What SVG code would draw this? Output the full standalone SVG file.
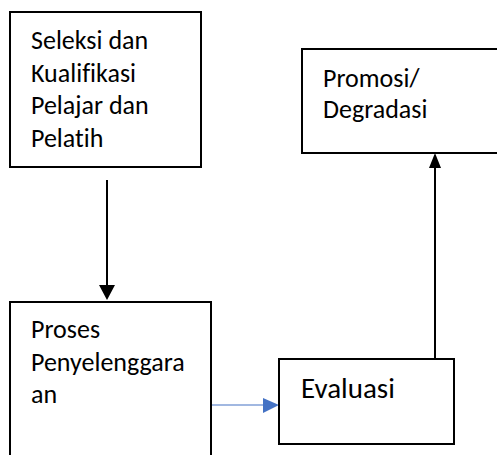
<svg xmlns="http://www.w3.org/2000/svg" width="497" height="455" viewBox="0 0 497 455">
<style>
.box{fill:#fff;stroke:#000;stroke-width:2}
.t{font-family:Carlito,Lato,"Liberation Sans",sans-serif;font-size:26px;fill:#000;font-variant-ligatures:none}
.e{font-size:29px}
</style>
<rect width="497" height="455" fill="#fff"/>
<g id="connectors">
<line x1="107" y1="180" x2="107" y2="285" stroke="#000" stroke-width="2"/>
<path d="M99,285L115,285L107,300z" fill="#000"/>
<line x1="435" y1="359" x2="435" y2="167" stroke="#000" stroke-width="2"/>
<path d="M429,168L441,168L435,153z" fill="#000"/>
<line x1="211" y1="405" x2="264" y2="405" stroke="#4472C4" stroke-width="1.2"/>
<path d="M263,398L279,405L263,413z" fill="#4472C4"/>
</g>
<g id="seleksi">
<rect class="box" x="10" y="12" width="191" height="155"/>
<text class="t" x="31" y="49">Seleksi dan</text>
<text class="t" x="31" y="82">Kualifikasi</text>
<text class="t" x="31" y="114">Pelajar dan</text>
<text class="t" x="31" y="147">Pelatih</text>
</g>
<g id="promosi">
<rect class="box" x="302" y="49" width="196" height="104"/>
<text class="t" x="323" y="87">Promosi/</text>
<text class="t" x="323" y="118">Degradasi</text>
</g>
<g id="proses">
<rect class="box" x="10" y="302" width="201" height="160"/>
<text class="t" x="31" y="338">Proses</text>
<text class="t" x="31" y="371">Penyelenggara</text>
<text class="t" x="31" y="403">an</text>
</g>
<g id="evaluasi">
<rect class="box" x="279" y="359" width="175" height="85"/>
<text class="t e" x="301" y="398">Evaluasi</text>
</g>
</svg>
